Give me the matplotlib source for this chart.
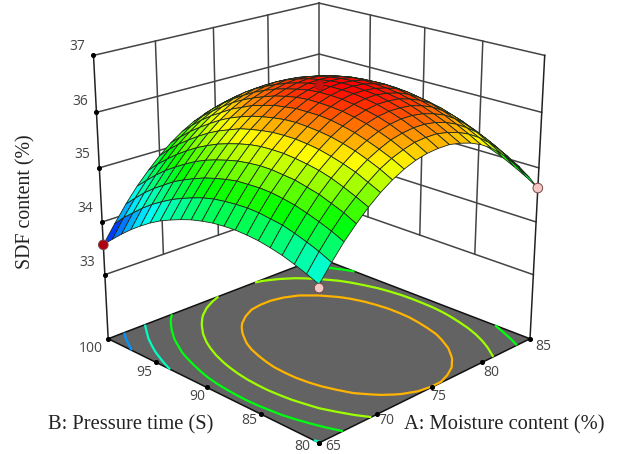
import numpy as np
import matplotlib
matplotlib.use('Agg')
from matplotlib import pyplot as plt
from matplotlib.colors import LinearSegmentedColormap

#data tables
moisture = [65, 66, 67, 68, 69, 70, 71, 72, 73, 74, 75, 76, 77, 78, 79, 80, 81, 82, 83, 84, 85]
pressure = [80, 81, 82, 83, 84, 85, 86, 87, 88, 89, 90, 91, 92, 93, 94, 95, 96, 97, 98, 99, 100]
# SDF content, one row per pressure time, one column per moisture content
sdf = [
    [34.46, 34.74, 35.00, 35.22, 35.42, 35.59, 35.73, 35.84, 35.92, 35.97, 35.99, 35.99, 35.95, 35.89, 35.80, 35.68, 35.52, 35.34, 35.14, 34.90, 34.63],
    [34.55, 34.84, 35.10, 35.33, 35.52, 35.69, 35.84, 35.95, 36.03, 36.09, 36.11, 36.11, 36.07, 36.01, 35.92, 35.80, 35.65, 35.47, 35.27, 35.03, 34.77],
    [34.63, 34.92, 35.18, 35.41, 35.61, 35.79, 35.93, 36.04, 36.13, 36.18, 36.21, 36.21, 36.18, 36.12, 36.03, 35.91, 35.77, 35.59, 35.39, 35.15, 34.89],
    [34.70, 34.99, 35.25, 35.49, 35.69, 35.86, 36.01, 36.12, 36.21, 36.27, 36.30, 36.30, 36.27, 36.21, 36.13, 36.01, 35.86, 35.69, 35.49, 35.26, 35.00],
    [34.75, 35.05, 35.31, 35.54, 35.75, 35.92, 36.07, 36.19, 36.28, 36.34, 36.37, 36.37, 36.35, 36.29, 36.21, 36.09, 35.95, 35.78, 35.58, 35.35, 35.09],
    [34.79, 35.08, 35.35, 35.59, 35.79, 35.97, 36.12, 36.24, 36.33, 36.39, 36.43, 36.43, 36.41, 36.35, 36.27, 36.16, 36.02, 35.85, 35.65, 35.42, 35.16],
    [34.81, 35.11, 35.38, 35.61, 35.82, 36.00, 36.15, 36.28, 36.37, 36.43, 36.47, 36.48, 36.45, 36.40, 36.32, 36.21, 36.07, 35.90, 35.71, 35.48, 35.23],
    [34.82, 35.12, 35.39, 35.63, 35.84, 36.02, 36.17, 36.30, 36.39, 36.46, 36.50, 36.50, 36.48, 36.43, 36.36, 36.25, 36.11, 35.94, 35.75, 35.53, 35.27],
    [34.81, 35.11, 35.38, 35.63, 35.84, 36.02, 36.18, 36.30, 36.40, 36.47, 36.51, 36.52, 36.50, 36.45, 36.38, 36.27, 36.14, 35.97, 35.78, 35.56, 35.31],
    [34.79, 35.09, 35.37, 35.61, 35.83, 36.01, 36.17, 36.30, 36.40, 36.47, 36.51, 36.52, 36.50, 36.46, 36.38, 36.28, 36.15, 35.98, 35.79, 35.57, 35.32],
    [34.75, 35.06, 35.33, 35.58, 35.80, 35.98, 36.14, 36.27, 36.38, 36.45, 36.49, 36.50, 36.49, 36.45, 36.37, 36.27, 36.14, 35.98, 35.79, 35.57, 35.33],
    [34.70, 35.01, 35.28, 35.53, 35.75, 35.94, 36.10, 36.24, 36.34, 36.41, 36.46, 36.47, 36.46, 36.42, 36.35, 36.25, 36.12, 35.96, 35.78, 35.56, 35.32],
    [34.63, 34.94, 35.22, 35.47, 35.69, 35.89, 36.05, 36.18, 36.29, 36.36, 36.41, 36.43, 36.42, 36.38, 36.31, 36.21, 36.09, 35.93, 35.75, 35.53, 35.29],
    [34.55, 34.86, 35.14, 35.40, 35.62, 35.81, 35.98, 36.12, 36.22, 36.30, 36.35, 36.37, 36.36, 36.32, 36.26, 36.16, 36.04, 35.88, 35.70, 35.49, 35.25],
    [34.46, 34.77, 35.05, 35.31, 35.53, 35.73, 35.90, 36.03, 36.14, 36.22, 36.27, 36.30, 36.29, 36.25, 36.19, 36.10, 35.97, 35.82, 35.64, 35.43, 35.19],
    [34.35, 34.66, 34.95, 35.20, 35.43, 35.63, 35.80, 35.94, 36.05, 36.13, 36.18, 36.21, 36.20, 36.17, 36.11, 36.01, 35.89, 35.74, 35.57, 35.36, 35.12],
    [34.22, 34.54, 34.82, 35.08, 35.31, 35.51, 35.68, 35.82, 35.94, 36.02, 36.08, 36.10, 36.10, 36.07, 36.01, 35.92, 35.80, 35.65, 35.48, 35.27, 35.03],
    [34.08, 34.40, 34.69, 34.95, 35.18, 35.38, 35.55, 35.70, 35.81, 35.90, 35.96, 35.98, 35.98, 35.95, 35.90, 35.81, 35.69, 35.54, 35.37, 35.17, 34.93],
    [33.92, 34.24, 34.54, 34.80, 35.03, 35.24, 35.41, 35.56, 35.67, 35.76, 35.82, 35.85, 35.85, 35.83, 35.77, 35.68, 35.57, 35.42, 35.25, 35.05, 34.82],
    [33.75, 34.08, 34.37, 34.63, 34.87, 35.08, 35.25, 35.40, 35.52, 35.61, 35.67, 35.70, 35.71, 35.68, 35.63, 35.54, 35.43, 35.29, 35.12, 34.92, 34.69],
    [33.57, 33.89, 34.19, 34.46, 34.69, 34.90, 35.08, 35.23, 35.35, 35.44, 35.51, 35.54, 35.55, 35.52, 35.47, 35.39, 35.28, 35.14, 34.97, 34.77, 34.54],
]
z_ticks = [33, 34, 35, 36, 37]
a_ticks = [65, 70, 75, 80, 85]
b_ticks = [80, 85, 90, 95, 100]
contour_levels = [34, 34.5, 35, 35.5, 36]
# design points
point_a = [65, 65, 85, 75]
point_b = [100, 80, 80, 90]
point_sdf = [33.57, 34.40, 34.63, 36.49]
floor_z = 31.75

A, B = np.meshgrid(moisture, pressure)
Z = np.array(sdf)

fig = plt.figure(figsize=(6.19, 4.54), dpi=100)
#square axes wider than the figure height so nothing gets clipped
ax = fig.add_axes([0.002, -0.1447, 1, 1.3634], projection='3d', computed_zorder=False)
ax.set_proj_type('persp', focal_length=0.47)
ax.view_init(elev=20.5, azim=-135)
ax.set_box_aspect((1, 1, 0.98), zoom=0.832)
ax.set_xlim(65, 85, view_margin=0)
ax.set_ylim(80, 100, view_margin=0)
ax.set_zlim(floor_z, 37, view_margin=0)
ax.set_axis_off()

rainbow = LinearSegmentedColormap.from_list('rb', ['#0000ff', '#00ffff', '#00ff00', '#ffff00', '#ff0000'])
norm = plt.Normalize(Z.min(), Z.max())

#back walls
grid = '#444444'
for v in z_ticks:
    ax.plot([65, 85], [100, 100], [v, v], color=grid, lw=1.1, zorder=1)
    ax.plot([85, 85], [80, 100], [v, v], color=grid, lw=1.1, zorder=1)
for v in a_ticks[1:-1]:
    ax.plot([v, v], [100, 100], [33, 37], color=grid, lw=1.1, zorder=1)
for v in b_ticks[1:-1]:
    ax.plot([85, 85], [v, v], [33, 37], color=grid, lw=1.1, zorder=1)
ax.plot([85, 85], [100, 100], [33, 37], color=grid, lw=1.1, zorder=1)
ax.plot([65, 65], [100, 100], [floor_z, 37], color='#222222', lw=1.1, zorder=1)
ax.plot([85, 85], [80, 80], [floor_z, 37], color='#222222', lw=1.1, zorder=1)

#floor with contours
FA, FB = np.meshgrid([65, 85], [80, 100])
ax.plot_surface(FA, FB, np.full(FA.shape, floor_z), color='#636363', shade=False, edgecolor='none', zorder=2)
ax.plot([65, 85, 85, 65, 65], [100, 100, 80, 80, 100], [floor_z]*5, color='#111111', lw=1.1, zorder=3)
ax.contour(A, B, Z, levels=contour_levels, offset=floor_z, zdir='z',
           colors=[rainbow(norm(v)) for v in contour_levels], linewidths=1.6, zorder=4)

#surface
ax.plot_surface(A, B, Z, facecolors=rainbow(norm(Z)), rstride=1, cstride=1, shade=False,
                edgecolor='#1c2a1c', linewidth=0.6, zorder=5)

#design points and tick dots
ax.scatter(point_a[:3], point_b[:3], point_sdf[:3], s=48, c=['#b00010', '#f4c8c4', '#f4c8c4'],
           edgecolors='#7a4a48', linewidths=0.7, depthshade=False, zorder=7)
ax.scatter(point_a[3:], point_b[3:], point_sdf[3:], s=44, c='#c81410', edgecolors='#a01010',
           linewidths=0.5, depthshade=False, zorder=7)
ax.scatter([65]*5, [100]*5, z_ticks, s=7, c='k', depthshade=False, zorder=6)
ax.scatter(a_ticks, [80]*5, [floor_z]*5, s=7, c='k', depthshade=False, zorder=6)
ax.scatter([65]*5, b_ticks, [floor_z]*5, s=7, c='k', depthshade=False, zorder=6)

def label(px, py, s, **kw):
    fig.text(px/619, 1 - py/454, s, ha='center', va='center', **kw)

tick = dict(family='Open Sans', fontsize=10, color='#444444')
for px, py, s in zip([77, 80, 82, 85, 87], [47, 101, 155, 208, 262], z_ticks[::-1]):
    label(px, py, str(s), **tick)
for px, py, s in zip([91, 144, 197, 249, 302], [348, 372, 397, 421, 446], b_ticks[::-1]):
    label(px, py, str(s), **tick)
for px, py, s in zip([333, 386, 438, 491, 543], [446, 421, 397, 372, 347], a_ticks):
    label(px, py, str(s), **tick)
serif = dict(family='Liberation Serif', color='#222222')
label(26, 202, 'SDF content (%)', rotation=90, fontsize=14.3, **serif)
label(131, 425, 'B: Pressure time (S)', fontsize=14.8, **serif)
label(504, 425, 'A: Moisture content (%)', fontsize=14.8, **serif)

fig.savefig('out.png', dpi=100)
